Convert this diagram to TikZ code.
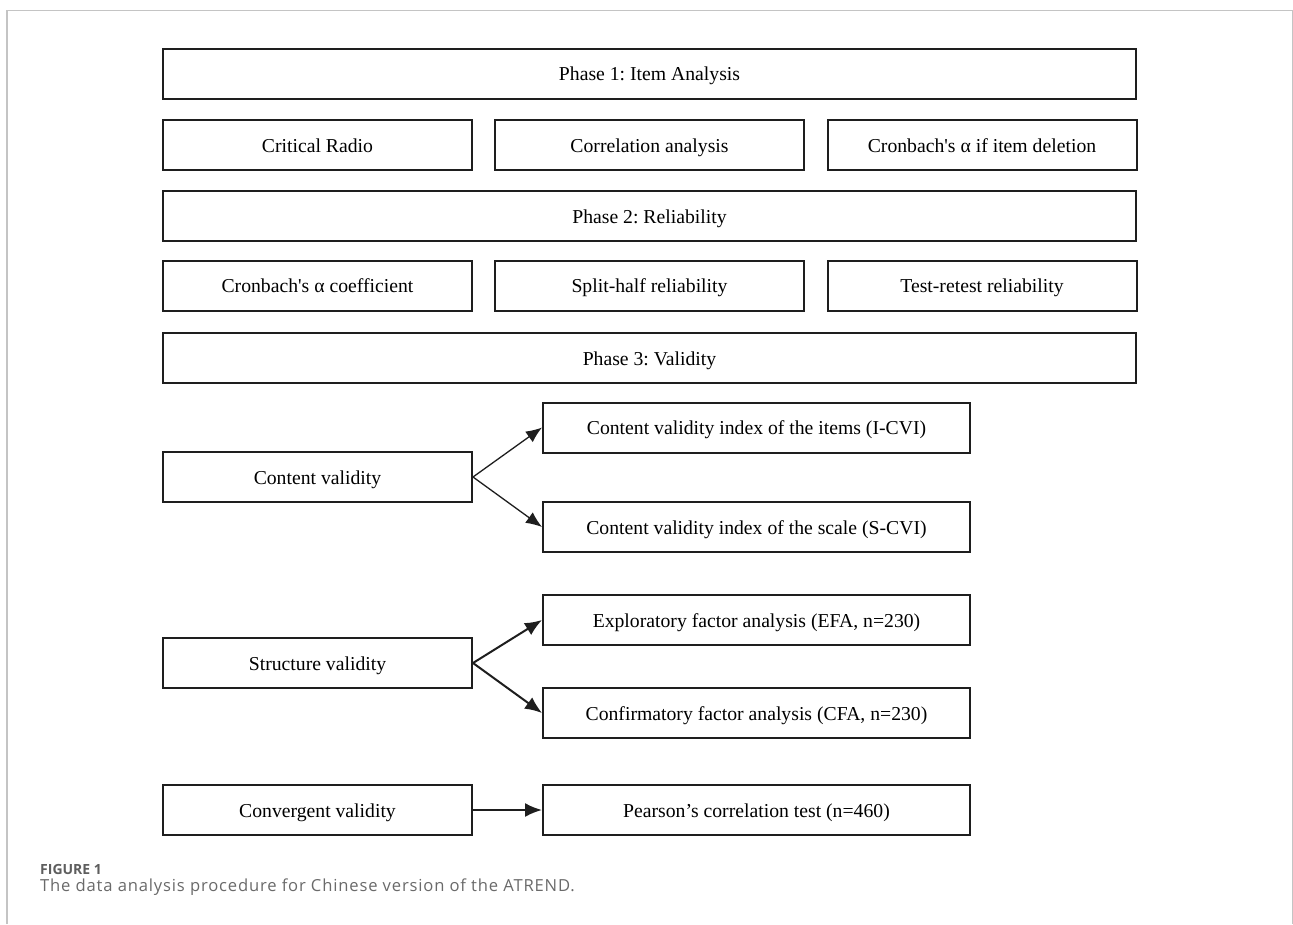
\documentclass[tikz,border=0pt]{standalone}
\usepackage{fontspec}
\setmainfont{Liberation Serif}
\newfontfamily\capfont{Open Sans}
\newfontfamily\capfontwide{Open Sans}[LetterSpace=5]
\usetikzlibrary{arrows.meta}
\definecolor{boxline}{HTML}{1E1E1E}
\definecolor{framegray}{HTML}{C4C4C4}
\definecolor{capgray}{HTML}{5E5E5E}
\definecolor{captxt}{HTML}{6A6A6A}
\begin{document}
\frenchspacing
\begin{tikzpicture}[x=1pt,y=-1pt,
  bx/.style={draw=boxline, line width=2pt, fill=white, inner sep=0pt,
    minimum height=50pt, text height=16pt, text depth=2pt,
    font=\fontsize{19.7}{24}\selectfont\frenchspacing},
  wide/.style={bx, minimum width=973pt},
  third/.style={bx, minimum width=309pt},
  right/.style={bx, minimum width=427pt},
  thinarrow/.style={draw=boxline, line width=1.3pt, -{Latex[length=16pt,width=13pt]}},
  thickarrow/.style={draw=boxline, line width=2pt, -{Latex[length=17pt,width=14pt]}},
  frame/.style={draw=framegray, line width=1.4pt}
]
\useasboundingbox (0,0) rectangle (1293,924);
\fill[white] (0,0) rectangle (1293,924);
\draw[frame] (7,924) -- (7,10.5) -- (1292.3,10.5) -- (1292.3,924);

\node[wide] (p1) at (649.5,73.5) {Phase 1: Item Analysis};
\node[third] (cr) at (317.5,145) {Critical Radio};
\node[third] (ca) at (649.5,145) {Correlation analysis};
\node[third] (cd) at (982,145) {Cronbach\textquotesingle s α if item deletion};
\node[wide] (p2) at (649.5,216) {Phase 2: Reliability};
\node[third] (cc) at (317.5,285.5) {Cronbach\textquotesingle s α coefficient};
\node[third] (sh) at (649.5,285.5) {Split-half reliability};
\node[third] (tr) at (982,285.5) {Test-retest reliability};
\node[wide] (p3) at (649.5,358) {Phase 3: Validity};

\node[third] (cv) at (317.5,477) {Content validity};
\node[right] (icvi) at (756.5,427.5) {Content validity index of the items (I-CVI)};
\node[right] (scvi) at (756.5,527) {Content validity index of the scale (S-CVI)};

\node[third] (sv) at (317.5,663) {Structure validity};
\node[right] (efa) at (756.5,620) {Exploratory factor analysis (EFA, n=230)};
\node[right] (cfa) at (756.5,713) {Confirmatory factor analysis (CFA, n=230)};

\node[third] (conv) at (317.5,810) {Convergent validity};
\node[right] (pear) at (756.5,810) {Pearson’s correlation test (n=460)};

\draw[thinarrow] (cv.east) -- (icvi.west);
\draw[thinarrow] (cv.east) -- (scvi.west);
\draw[thickarrow] (sv.east) -- (efa.west);
\draw[thickarrow] (sv.east) -- (cfa.west);
\draw[thickarrow] (conv.east) -- (pear.west);

\node[anchor=base west, inner sep=0pt, text=capgray, font=\capfont\bfseries\fontsize{14}{16}\selectfont] (figlab) at (40,874) {FIGURE 1};
\node[anchor=base west, inner sep=0pt, text=captxt, font=\capfontwide\fontsize{16.6}{20}\selectfont] (figcap) at (40,891) {The data analysis procedure for Chinese version of the ATREND.};
\end{tikzpicture}
\end{document}
